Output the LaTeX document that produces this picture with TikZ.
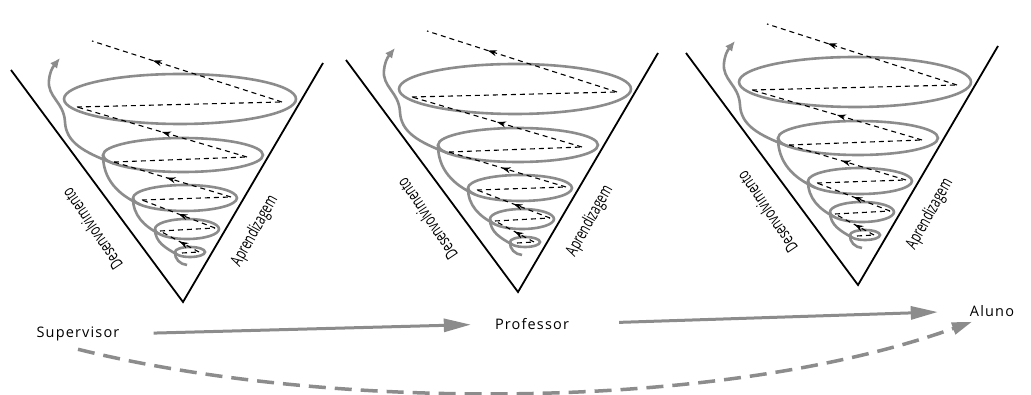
\documentclass[tikz,border=0pt]{standalone}
\usepackage{fontspec}
\setmainfont{Open Sans}
\newfontfamily\lblfont[LetterSpace=8]{Open Sans}
\newfontfamily\condfont{Open Sans}
\usetikzlibrary{arrows.meta,decorations.markings}
\definecolor{spir}{HTML}{8C8C8C}
\tikzset{
 coneline/.style={draw=black, line width=1.8pt},
 spiral/.style={draw=spir, line width=2.6pt},
 zig/.style={draw=black, line width=1.1pt, dash pattern=on 5pt off 4pt},
 midarrow/.style={postaction={decorate}, decoration={markings, mark=at position #1 with {\arrow{Stealth[length=9pt,width=6pt]}}}},
 sidelabel/.style={font=\condfont\fontsize{17}{17}\selectfont, inner sep=0pt},
 rolelabel/.style={font=\lblfont\fontsize{14.5}{15}\selectfont, inner sep=0pt},
 flow/.style={draw=spir, line width=3pt, -{Triangle[length=27pt,width=13pt]}},
}
\newcommand\drawcone[3]{%
\begin{scope}[shift={(#1,#2)}]
 \draw[coneline] (-172,232) -- (0,0) -- (140,239);
 \draw[spiral] (-3,203) ellipse [x radius=116, y radius=25];
 \draw[spiral] (0,147) ellipse [x radius=80, y radius=17];
 \draw[spiral] (2,104) ellipse [x radius=52, y radius=13];
 \draw[spiral] (4,73) ellipse [x radius=32, y radius=10];
 \draw[spiral] (7,50) ellipse [x radius=15, y radius=5];
 \draw[spiral] (-80,147) to[out=-90,in=156] (-43,97.5);
 \draw[spiral] (-50,104) to[out=-90,in=152] (-23.7,68);
 \draw[spiral] (-28,73) to[out=-90,in=150] (-6,47.5);
 \draw[spiral] (-8,50) to[out=-95,in=175] (4,37);
 \draw[spiral, -{Latex[length=10pt,width=9pt]}] (-69.3,138.5) .. controls (-100,150) and (-117,160) .. (-118,180) .. controls (-119,200) and (-136,205) .. (-134,222) .. controls (-133,230) and (-131,234) .. (-123,244);
 \draw[zig] (-1,49) -- (16,50);
 \draw[zig] (-23,71) -- (32,74);
 \draw[zig] (-41,102) -- (48,105);
 \draw[zig] (-69,140) -- (64,145);
 \draw[zig] (-106,195) -- (99,200);
 \draw[zig, midarrow=0.5] (16,50) -- (-23,71);
 \draw[zig, midarrow=0.5] (32,74) -- (-41,102);
 \draw[zig, midarrow=0.55] (48,105) -- (-69,140);
 \draw[zig, midarrow=0.5] (64,145) -- (-106,195);
 \draw[zig, midarrow=0.68] (99,200) -- (-91,261);
 \node[sidelabel, rotate=124, xscale=0.68] (dev#3) at (-91,73) {Desenvolvimento};
 \node[sidelabel, rotate=61, xscale=0.68] (apr#3) at (72,71) {Aprendizagem};
\end{scope}}
\begin{document}
\begin{tikzpicture}[x=1pt,y=1pt]
\path[use as bounding box, fill=white] (0,0) rectangle (1031,394);
\drawcone{183}{92}{1}
\drawcone{518}{102}{2}
\drawcone{858}{109}{3}
\node[rolelabel] (sup) at (78,60) {Supervisor};
\node[rolelabel] (prof) at (532,70) {Professor};
\node[rolelabel] (alu) at (992,83) {Aluno};
\draw[flow, shorten <=34pt, shorten >=24pt] (sup.east) -- (prof.west);
\draw[flow, shorten <=50pt, shorten >=32pt] (prof.east) -- (alu.west);
\draw[draw=spir, line width=3.5pt, dash pattern=on 17pt off 9pt, -{Triangle[length=20pt,width=12pt]}] ([yshift=-8pt]sup.south) .. controls (330,-18) and (720,-18) .. ([xshift=-20pt,yshift=-5pt]alu.south);
\end{tikzpicture}
\end{document}
